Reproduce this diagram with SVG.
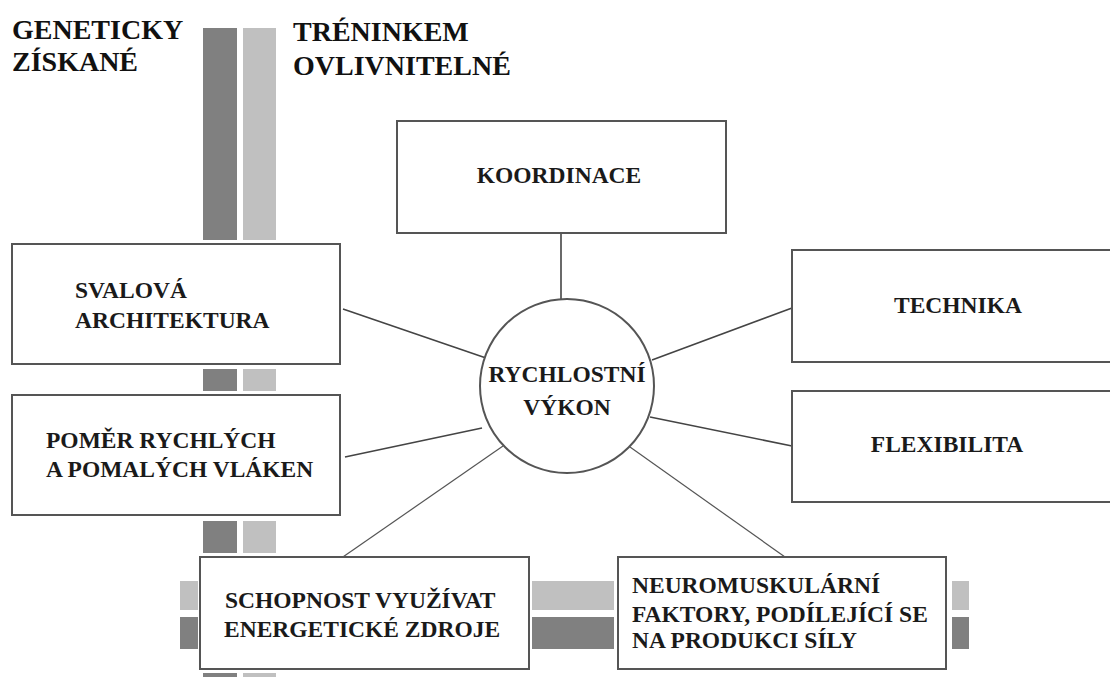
<svg xmlns="http://www.w3.org/2000/svg" width="1110" height="677" viewBox="0 0 1110 677">
<style>
.box{fill:#fff;stroke:#555;stroke-width:2}
.dk{fill:#808080}
.lt{fill:#c0c0c0}
.t{font-family:'Liberation Serif','DejaVu Serif',serif;font-weight:bold;font-size:23.5px;fill:#1a1a1a}
.h{font-family:'Liberation Serif','DejaVu Serif',serif;font-weight:bold;font-size:28px;fill:#111}
.c{stroke:#444;stroke-width:1.6;fill:none}
.c2{stroke:#555;stroke-width:1.2;fill:none}
</style>
<rect width="1110" height="677" fill="#fff"/>
<g id="bars">
<rect class="dk" x="203" y="28" width="34" height="212"/>
<rect class="lt" x="243" y="28" width="33" height="212"/>
<rect class="dk" x="203" y="369" width="34" height="22"/>
<rect class="lt" x="243" y="369" width="33" height="22"/>
<rect class="dk" x="203" y="521" width="34" height="32"/>
<rect class="lt" x="243" y="521" width="33" height="32"/>
<rect class="dk" x="203" y="673" width="34" height="4"/>
<rect class="lt" x="243" y="673" width="33" height="4"/>
<rect class="lt" x="180" y="581" width="18" height="29"/>
<rect class="dk" x="180" y="617" width="18" height="32"/>
<rect class="lt" x="532" y="581" width="82" height="29"/>
<rect class="dk" x="532" y="617" width="82" height="32"/>
<rect class="lt" x="952" y="581" width="17" height="29"/>
<rect class="dk" x="952" y="617" width="17" height="32"/>
</g>
<g id="legend">
<text class="h" x="12" y="39">GENETICKY</text>
<text class="h" x="12" y="71">ZÍSKANÉ</text>
<text class="h" x="293" y="41">TRÉNINKEM</text>
<text class="h" x="293" y="75">OVLIVNITELNÉ</text>
</g>
<g id="connectors">
<line class="c" x1="561" y1="233" x2="561" y2="299"/>
<line class="c" x1="343" y1="309" x2="486" y2="358"/>
<line class="c" x1="345" y1="457" x2="482" y2="428"/>
<line class="c" x1="652" y1="360" x2="792" y2="308"/>
<line class="c" x1="650" y1="417" x2="792" y2="446"/>
<line class="c2" x1="503" y1="446" x2="340" y2="559"/>
<line class="c2" x1="630" y1="447" x2="785" y2="557"/>
</g>
<g id="center">
<circle cx="567" cy="386" r="87" fill="#fff" stroke="#555" stroke-width="2"/>
<text class="t" x="567" y="382" text-anchor="middle">RYCHLOSTNÍ</text>
<text class="t" x="567" y="415" text-anchor="middle">VÝKON</text>
</g>
<g id="koordinace">
<rect class="box" x="397" y="121" width="329" height="112"/>
<text class="t" x="559" y="183" text-anchor="middle">KOORDINACE</text>
</g>
<g id="svalova">
<rect class="box" x="12" y="244" width="328" height="120"/>
<text class="t" x="75" y="298">SVALOVÁ</text>
<text class="t" x="75" y="328">ARCHITEKTURA</text>
</g>
<g id="pomer">
<rect class="box" x="12" y="395" width="328" height="120"/>
<text class="t" x="46" y="448">POMĚR RYCHLÝCH</text>
<text class="t" x="46" y="477">A POMALÝCH VLÁKEN</text>
</g>
<g id="technika">
<rect class="box" x="792" y="250" width="330" height="112"/>
<text class="t" x="958" y="313" text-anchor="middle">TECHNIKA</text>
</g>
<g id="flexibilita">
<rect class="box" x="792" y="391" width="330" height="111"/>
<text class="t" x="947" y="452" text-anchor="middle">FLEXIBILITA</text>
</g>
<g id="schopnost">
<rect class="box" x="200" y="557" width="329" height="112"/>
<text class="t" x="225" y="608">SCHOPNOST VYUŽÍVAT</text>
<text class="t" x="224" y="637">ENERGETICKÉ ZDROJE</text>
</g>
<g id="neuro">
<rect class="box" x="618" y="557" width="328" height="112"/>
<text class="t" x="632" y="593">NEUROMUSKULÁRNÍ</text>
<text class="t" x="632" y="622">FAKTORY, PODÍLEJÍCÍ SE</text>
<text class="t" x="632" y="648">NA PRODUKCI SÍLY</text>
</g>
</svg>
